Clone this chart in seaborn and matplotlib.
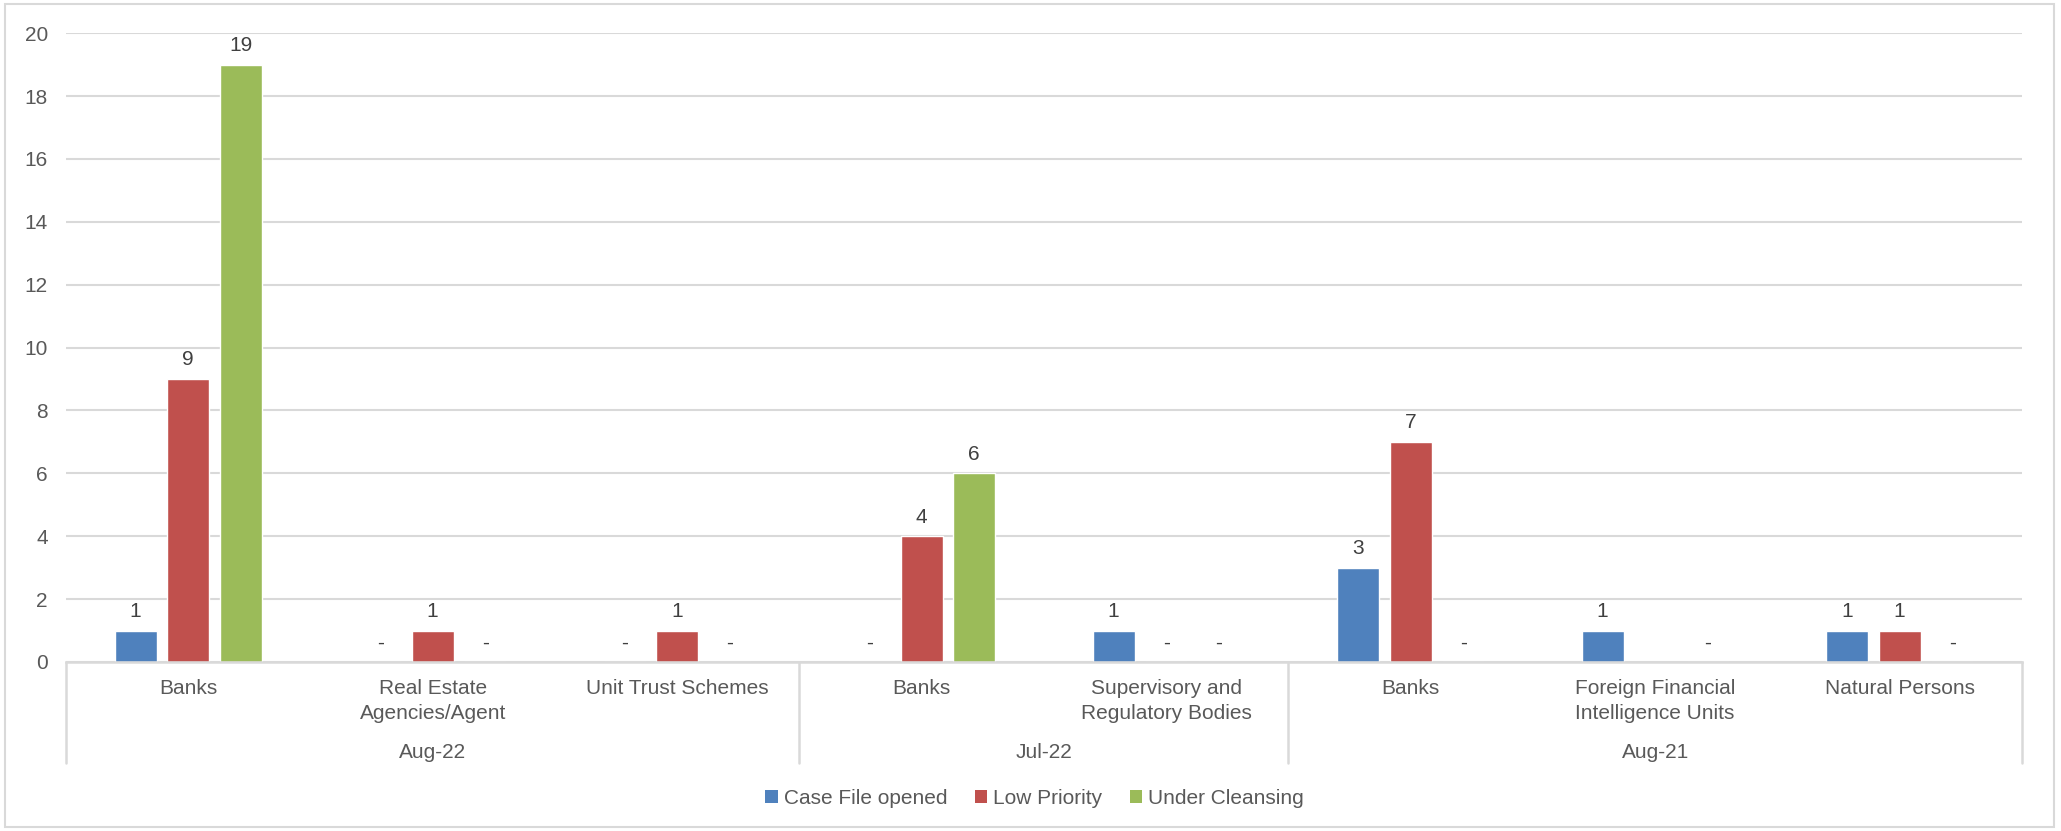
import numpy as np
import pandas as pd
import matplotlib
matplotlib.use("Agg")
import matplotlib.pyplot as plt
import seaborn as sns
from matplotlib.patches import Rectangle, Patch

# ============================================================
# DATA
# ============================================================

groups = ["Aug-22", "Aug-22", "Aug-22", "Jul-22", "Jul-22", "Aug-21", "Aug-21", "Aug-21"]
categories = [
    "Banks",
    "Real Estate\nAgencies/Agent",
    "Unit Trust Schemes",
    "Banks",
    "Supervisory and\nRegulatory Bodies",
    "Banks",
    "Foreign Financial\nIntelligence Units",
    "Natural Persons",
]
case_file_opened = [1, 0, 0, 0, 1, 3, 1, 1]
low_priority = [9, 1, 1, 4, 0, 7, np.nan, 1]
under_cleansing = [19, 0, 0, 6, 0, 0, 0, 0]

series = ["Case File opened", "Low Priority", "Under Cleansing"]
colors = {"Case File opened": "#4F81BD", "Low Priority": "#C0504D", "Under Cleansing": "#9BBB59"}

# long format, one unique key per category slot
slots = [f"{g}|{i}" for i, g in enumerate(groups)]
df = pd.DataFrame({
    "slot": slots * 3,
    "status": np.repeat(series, len(slots)),
    "count": case_file_opened + low_priority + under_cleansing,
}).dropna()

# ============================================================
# STYLE
# ============================================================

sns.set_theme(style="white")
plt.rcParams["font.family"] = ["Liberation Sans", "DejaVu Sans"]
TXT = "#595959"
GRID = "#D9D9D9"
FS = 15

fig = plt.figure(figsize=(20.61, 8.31), dpi=100)
ax = fig.add_axes([0.032, 0.2034, 0.949, 0.7566])

sns.barplot(
    data=df, x="slot", y="count", hue="status",
    order=slots, hue_order=series, palette=colors,
    width=0.645, gap=0.2, saturation=1, errorbar=None,
    legend=False, ax=ax,
)

# data labels: zero shown as "-"
for cont in ax.containers:
    labels = ["-" if v == 0 else f"{v:g}" for v in cont.datavalues]
    ax.bar_label(cont, labels=labels, padding=7, fontsize=FS, color="#404040")

# axes
ax.set_ylim(0, 20)
ax.set_xlim(-0.5, len(slots) - 0.5)
ax.set_yticks(range(0, 21, 2))
ax.tick_params(axis="y", labelsize=FS, labelcolor=TXT, length=0, pad=13)
ax.yaxis.grid(True, color=GRID, linewidth=1.5)
ax.set_axisbelow(True)
for side in ["left", "right", "top"]:
    ax.spines[side].set_visible(False)
ax.spines["bottom"].set_color(GRID)
ax.spines["bottom"].set_linewidth(1.8)
ax.set_xticks([])
ax.set_xlabel("")
ax.set_ylabel("")

# multi-level category axis
for i, cat in enumerate(categories):
    ax.annotate(cat, xy=(i, 0), xycoords=("data", "axes fraction"),
                xytext=(0, -12), textcoords="offset points",
                ha="center", va="top", fontsize=FS, color=TXT, linespacing=1.4)

group_names = list(dict.fromkeys(groups))
bounds = [-0.5]
for g in group_names:
    idx = [i for i, gg in enumerate(groups) if gg == g]
    ax.annotate(g, xy=((idx[0] + idx[-1]) / 2, 0), xycoords=("data", "axes fraction"),
                xytext=(0, -65), textcoords="offset points",
                ha="center", va="center", fontsize=FS, color=TXT)
    bounds.append(idx[-1] + 0.5)

trans = ax.get_xaxis_transform()
for b in bounds:
    ax.plot([b, b], [0, -0.1606], transform=trans, color=GRID, lw=1.8, clip_on=False)

# legend
handles = [Patch(facecolor=colors[s], edgecolor="none", label=s) for s in series]
fig.legend(handles=handles, loc="center", bbox_to_anchor=(0.502, 0.039),
           ncol=3, frameon=False, fontsize=FS, labelcolor=TXT,
           handlelength=0.6, handleheight=0.6, handletextpad=0.3, columnspacing=1.3)

# chart border
fig.patches.append(Rectangle((0.0025, 0.005), 0.994, 0.99, transform=fig.transFigure,
                             fill=False, edgecolor=GRID, linewidth=1.5))

fig.savefig("out.png", dpi=100)
